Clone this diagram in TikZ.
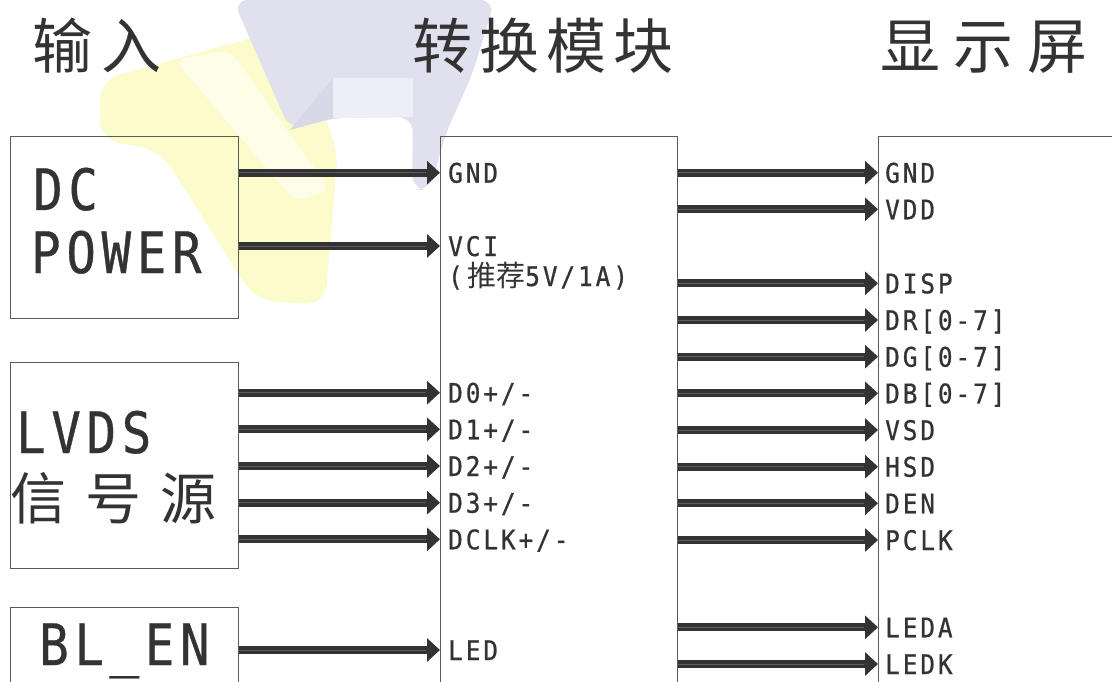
\documentclass[tikz,border=0pt]{standalone}
\usepackage{fontspec}
\newfontfamily\monobig{DejaVu Sans Mono}[FakeStretch=0.86, LetterSpace=10, FakeBold=0.6]
\newfontfamily\monols{DejaVu Sans Mono}[FakeStretch=0.9, LetterSpace=11, FakeBold=0.8]
\newfontfamily\cjk{Noto Sans CJK SC}
\usetikzlibrary{arrows.meta}
\definecolor{ink}{HTML}{333333}
\definecolor{stripe}{HTML}{5C5C5C}
\definecolor{frame}{HTML}{5A5A5A}
\definecolor{wmyellow}{HTML}{FBFBCC}
\definecolor{wmblue}{HTML}{E0E0EE}
\definecolor{wmblueD}{HTML}{D8D8E9}
\definecolor{wmpale}{HTML}{EEEEF6}
\tikzset{
  box/.style={draw=frame, line width=0.9pt, anchor=north west, inner sep=0pt},
  bus/.style={draw=ink, line width=8pt, -{Triangle[length=13pt 0 0,width=23pt 0 0]}},
  busmid/.style={draw=stripe, line width=1pt, shorten >=14pt},
  sig/.style={font=\monols\fontsize{27}{30}\selectfont, text=ink, anchor=west, inner sep=0pt, text height=20pt, text depth=0pt},
  big/.style={font=\monobig\fontsize{57}{60}\selectfont, text=ink, anchor=base west, inner sep=0pt},
  title/.style={font=\cjk\fontsize{60}{66}\selectfont, text=ink, anchor=base, inner sep=0pt},
}
\begin{document}
\begin{tikzpicture}[x=1pt,y=-1pt]
\useasboundingbox (0,0) rectangle (1112,682);
\clip (0,0) rectangle (1112,682);
\fill[white] (0,0) rectangle (1112,682);
% faint watermark
\fill[wmyellow, rounded corners=20pt] (100,80) -- (288,28) -- (338,150) -- (325,305) -- (255,300) -- (160,150) -- (100,140) -- cycle;
\fill[white!55!wmyellow, rounded corners=10pt] (175,60) -- (230,50) -- (330,190) -- (295,202) -- cycle;
\fill[wmblue, rounded corners=15pt] (233,0) -- (495,0) -- (472,75) -- (445,135) -- (430,190) -- (412,190) -- (413,117) -- (333,118) -- (290,130) -- cycle;
\fill[wmblueD] (290,130) -- (333,78) -- (333,118) -- cycle;
\fill[wmpale] (333,78) -- (413,78) -- (413,117) -- (333,118) -- cycle;

% titles
\node[title] (t1) at (97,69) {输\hspace{10pt}入};
\node[title] (t2) at (543,69) {转\hspace{7pt}换\hspace{7pt}模\hspace{7pt}块};
\node[title] (t3) at (984,69) {显\hspace{14pt}示\hspace{14pt}屏};

% boxes
\node[box, minimum width=228pt, minimum height=182pt] (dc) at (10,136) {};
\node[box, minimum width=228pt, minimum height=206pt] (lv) at (10,362) {};
\node[box, minimum width=228pt, minimum height=100pt] (bl) at (10,607) {};
\node[box, minimum width=237pt, minimum height=600pt] (mid) at (440,136) {};
\node[box, minimum width=300pt, minimum height=600pt] (disp) at (878,136) {};

% box texts
\node[big] (dct) at (33,210) {DC};
\node[big] (pwt) at (31,273) {POWER};
\node[big] (lvt) at (16,453) {LVDS};
\node[title, anchor=base west, font=\cjk\fontsize{56}{60}\selectfont] (sgt) at (10,519) {信\hspace{19pt}号\hspace{19pt}源};
\node[big] (blt) at (39,665) {BL\_EN};

% left labels (module inputs)
\node[sig] (igND) at (448,172.7) {GND};
\node[sig] (ivci) at (448,246) {VCI};
\node[sig] (irec) at (448,276) {(\,{\cjk\fontsize{29}{30}\selectfont 推荐}5V/1A)};
\node[sig] (id0) at (448,392.7) {D0+/-};
\node[sig] (id1) at (448,429.3) {D1+/-};
\node[sig] (id2) at (448,466) {D2+/-};
\node[sig] (id3) at (448,502.7) {D3+/-};
\node[sig] (idclk) at (448,539.3) {DCLK+/-};
\node[sig] (iled) at (448,650) {LED};

% right labels (display)
\node[sig] (ognd) at (885,172.7) {GND};
\node[sig] (ovdd) at (885,209.3) {VDD};
\node[sig] (odisp) at (885,283.3) {DISP};
\node[sig] (odr) at (885,320) {DR[0-7]};
\node[sig] (odg) at (885,356.7) {DG[0-7]};
\node[sig] (odb) at (885,393.3) {DB[0-7]};
\node[sig] (ovsd) at (885,430) {VSD};
\node[sig] (ohsd) at (885,466.7) {HSD};
\node[sig] (oden) at (885,503.3) {DEN};
\node[sig] (opclk) at (885,540) {PCLK};
\node[sig] (oleda) at (885,627.3) {LEDA};
\node[sig] (oledk) at (885,664) {LEDK};

% input connectors
\foreach \src/\lab in {dc/igND, dc/ivci, lv/id0, lv/id1, lv/id2, lv/id3, lv/idclk, bl/iled}{
  \draw[bus] (\src.east |- \lab.west) -- (mid.west |- \lab.west);
  \draw[busmid] (\src.east |- \lab.west) -- (mid.west |- \lab.west);
}
% output connectors
\foreach \lab in {ognd, ovdd, odisp, odr, odg, odb, ovsd, ohsd, oden, opclk, oleda, oledk}{
  \draw[bus] (mid.east |- \lab.west) -- (disp.west |- \lab.west);
  \draw[busmid] (mid.east |- \lab.west) -- (disp.west |- \lab.west);
}
\end{tikzpicture}
\end{document}
